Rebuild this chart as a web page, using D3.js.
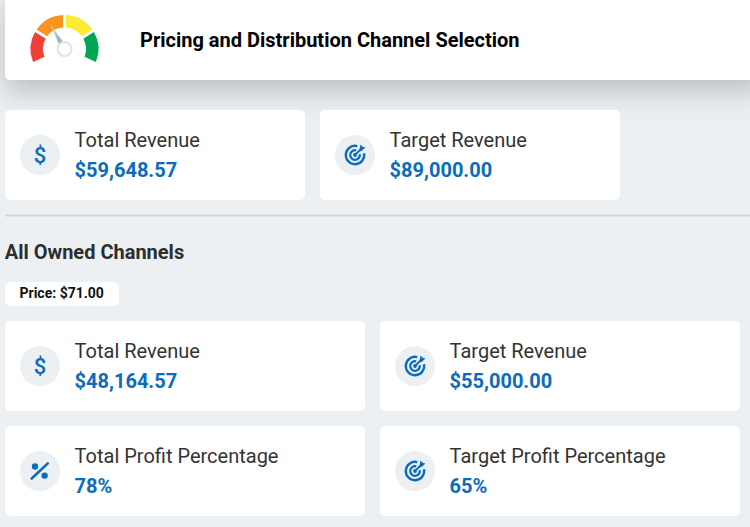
<!DOCTYPE html>
<html lang="en">
<head>
    <meta charset="UTF-8">
    <title>Pricing and Distribution Channel Selection</title>
    <script src="https://d3js.org/d3.v7.min.js"></script>
    <style>
        html, body { margin: 0; padding: 0; background: #ecf0f3; overflow: hidden; }
        svg { display: block; font-family: Roboto, sans-serif; }
    </style>
</head>
<body>
    <svg id="chart"></svg>
    <script>
        const pageTitle = "Pricing and Distribution Channel Selection";
        const sectionTitle = "All Owned Channels";
        const priceLabel = "Price: $71.00";

        const summaryLabels = ["Total Revenue", "Target Revenue"];
        const summaryValues = ["$59,648.57", "$89,000.00"];
        const summaryIcons = ["dollar", "target"];

        const channelLabels = ["Total Revenue", "Target Revenue", "Total Profit Percentage", "Target Profit Percentage"];
        const channelValues = ["$48,164.57", "$55,000.00", "78%", "65%"];
        const channelIcons = ["dollar", "target", "percent", "target"];

        const gaugeColors = ["#ef4136", "#f7941d", "#f9ed32", "#00a651"];
        const gaugeNeedle = 37; // percent of the dial

        const width = 750;
        const height = 527;
        const blue = "#0b6cbb";

        const svg = d3.select("#chart")
            .attr("viewBox", [0, 0, width, height])
            .attr("width", width)
            .attr("height", height);

        const defs = svg.append("defs");
        const shadow = defs.append("filter")
            .attr("id", "shadow")
            .attr("x", "-10%").attr("y", "-30%")
            .attr("width", "120%").attr("height", "200%");
        shadow.append("feDropShadow")
            .attr("dx", 0).attr("dy", 12)
            .attr("stdDeviation", 14)
            .attr("flood-color", "#000")
            .attr("flood-opacity", 0.2);
        const needleFill = defs.append("linearGradient")
            .attr("id", "needle")
            .attr("gradientUnits", "userSpaceOnUse")
            .attr("x1", 0).attr("y1", -26).attr("x2", 0).attr("y2", 0);
        needleFill.append("stop").attr("offset", "0%").attr("stop-color", "#dfe4ea");
        needleFill.append("stop").attr("offset", "100%").attr("stop-color", "#8298b0");

        svg.append("rect")
            .attr("width", width).attr("height", height)
            .attr("fill", "#ecf0f3");

        // header band, runs off the top and right of the page
        svg.append("rect")
            .attr("x", 5).attr("y", -10)
            .attr("width", width + 10).attr("height", 90)
            .attr("rx", 5)
            .attr("fill", "#fff")
            .attr("filter", "url(#shadow)");

        drawGauge(svg.append("g").attr("transform", "translate(64.5,49)"));

        svg.append("text")
            .attr("x", 140).attr("y", 47)
            .attr("font-size", 20).attr("font-weight", 700)
            .attr("fill", "#000")
            .text(pageTitle);

        const summaryX = d3.scalePoint().domain(d3.range(2)).range([5, 320]);
        const channelX = d3.scalePoint().domain(d3.range(2)).range([5, 380]);
        const channelY = d3.scalePoint().domain(d3.range(2)).range([321, 426]);

        summaryLabels.forEach((label, i) => {
            drawCard(summaryX(i), 110, 300, label, summaryValues[i], summaryIcons[i]);
        });

        svg.append("line")
            .attr("x1", 5).attr("x2", width)
            .attr("y1", 215.5).attr("y2", 215.5)
            .attr("stroke", "#d3d7db").attr("stroke-width", 2);

        svg.append("text")
            .attr("x", 4.7).attr("y", 259)
            .attr("font-size", 20).attr("font-weight", 700)
            .attr("fill", "#2e2e2e")
            .text(sectionTitle);

        svg.append("rect")
            .attr("x", 5).attr("y", 282)
            .attr("width", 114).attr("height", 24)
            .attr("rx", 5)
            .attr("fill", "#fff");
        svg.append("text")
            .attr("x", 19.5).attr("y", 298)
            .attr("font-size", 14).attr("font-weight", 700)
            .attr("fill", "#111")
            .text(priceLabel);

        channelLabels.forEach((label, i) => {
            drawCard(channelX(i % 2), channelY(Math.floor(i / 2)), 360, label, channelValues[i], channelIcons[i]);
        });

        function drawCard(x, y, w, label, value, icon) {
            const g = svg.append("g").attr("transform", `translate(${x},${y})`);
            g.append("rect")
                .attr("width", w).attr("height", 90)
                .attr("rx", 5)
                .attr("fill", "#fff");
            g.append("circle")
                .attr("cx", 35).attr("cy", 45).attr("r", 20)
                .attr("fill", "#ecf0f3");
            drawIcon(g.append("g").attr("transform", "translate(35,45)"), icon);
            g.append("text")
                .attr("x", 69.6).attr("y", 37)
                .attr("font-size", 20)
                .attr("fill", "#333")
                .text(label);
            g.append("text")
                .attr("x", 69.6).attr("y", 67)
                .attr("font-size", 20).attr("font-weight", 700)
                .attr("fill", blue)
                .text(value);
        }

        function drawIcon(g, icon) {
            if (icon === "dollar") {
                g.append("text")
                    .attr("text-anchor", "middle").attr("y", 7.5)
                    .attr("font-size", 22).attr("font-weight", 500)
                    .attr("fill", blue)
                    .text("$");
            } else if (icon === "percent") {
                g.append("line")
                    .attr("x1", -8.3).attr("y1", 7.5).attr("x2", 7.8).attr("y2", -7.6)
                    .attr("stroke", blue).attr("stroke-width", 2.6).attr("stroke-linecap", "round");
                g.append("circle").attr("cx", -5).attr("cy", -4.5).attr("r", 3.2).attr("fill", blue);
                g.append("circle").attr("cx", 4.6).attr("cy", 4.6).attr("r", 3.2).attr("fill", blue);
            } else {
                // rings with a gap at the top right for the arrow
                const ring = d3.arc().startAngle(Math.PI * 0.44).endAngle(Math.PI * 2.08);
                [[8, 10.4], [3.7, 5.9]].forEach(([r0, r1]) => {
                    g.append("path")
                        .attr("d", ring({innerRadius: r0, outerRadius: r1}))
                        .attr("fill", blue);
                });
                g.append("circle").attr("r", 1.9).attr("fill", blue);
                g.append("line")
                    .attr("x1", 0).attr("y1", 0).attr("x2", 7).attr("y2", -7)
                    .attr("stroke", blue).attr("stroke-width", 1.8);
                g.append("path")
                    .attr("d", d3.line()([[4.5, -5], [5.5, -10.5], [8, -8], [10.5, -7.5], [6, -3.5]]))
                    .attr("fill", blue);
            }
        }

        function drawGauge(g) {
            const toRad = d => d * Math.PI / 180;
            const span = d3.scaleLinear().domain([0, 100]).range([toRad(-115), toRad(115)]);
            const slices = d3.pie().value(1).sort(null)
                .startAngle(span(0)).endAngle(span(100)).padAngle(toRad(4))(gaugeColors);
            const arc = d3.arc().innerRadius(21.5).outerRadius(34);
            g.selectAll("path.slice")
                .data(slices)
                .join("path")
                .attr("class", "slice")
                .attr("d", arc)
                .attr("fill", d => d.data);

            const a = span(gaugeNeedle);
            const tip = [Math.sin(a) * 29, -Math.cos(a) * 29];
            const side = [Math.cos(a) * 3.2, Math.sin(a) * 3.2];
            g.append("path")
                .attr("d", d3.line()([tip, [side[0], side[1]], [-side[0], -side[1]]]))
                .attr("fill", "url(#needle)");
            g.append("circle")
                .attr("r", 7)
                .attr("fill", "#fff")
                .attr("stroke", "#e2e3e5")
                .attr("stroke-width", 2);
        }
    </script>
</body>
</html>
